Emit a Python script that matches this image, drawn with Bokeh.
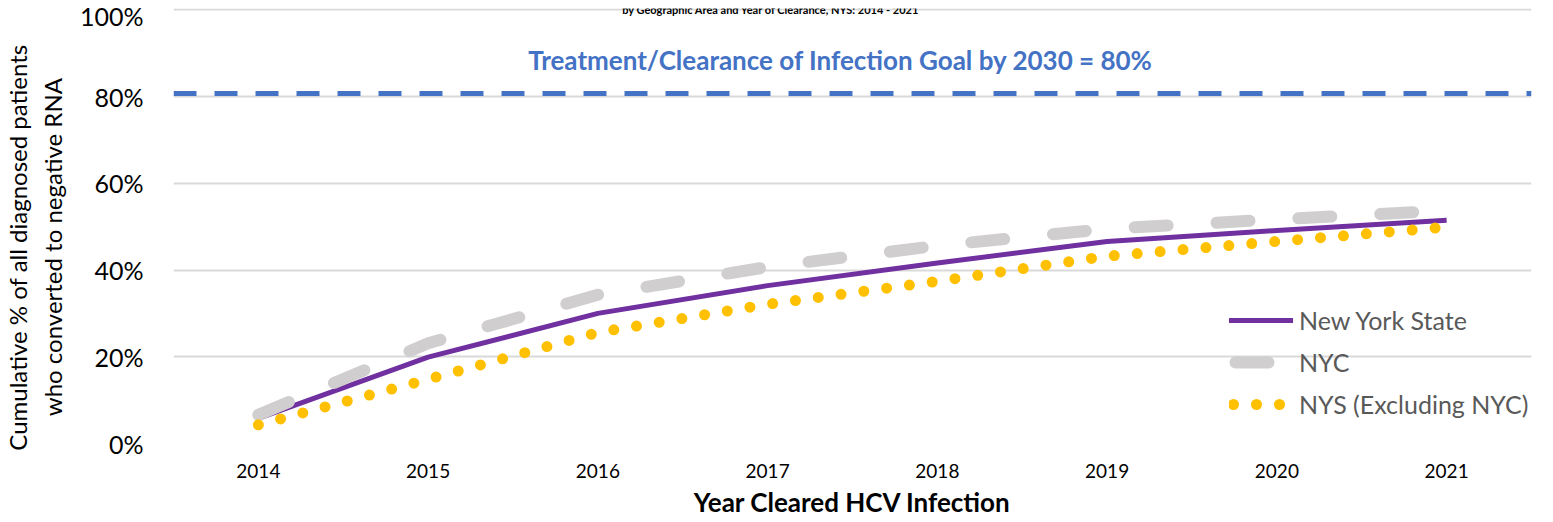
from bokeh.plotting import figure
from bokeh.models import Range1d, FixedTicker, Span, Label, Legend, LegendItem
from bokeh.embed import file_html
from bokeh.resources import INLINE

# ---- data ----
years = [2014, 2015, 2016, 2017, 2018, 2019, 2020, 2021]
year_labels = ["2014", "2015", "2016", "2017", "2018", "2019", "2020", "2021"]
nys = [5.8, 19.9, 30.0, 36.4, 41.6, 46.6, 49.1, 51.5]          # New York State
nyc = [6.6, 23.1, 34.3, 40.7, 45.6, 49.5, 51.7, 53.7]          # NYC
nys_excl = [4.3, 14.8, 25.6, 32.1, 37.4, 43.2, 46.6, 49.9]     # NYS (Excluding NYC)
goal = 80.7
y_ticks = [0, 20, 40, 60, 80, 100]
y_tick_labels = ["0%", "20%", "40%", "60%", "80%", "100%"]
series_names = ["New York State", "NYC", "NYS (Excluding NYC)"]
goal_text = "Treatment/Clearance of Infection Goal by 2030 = 80%"
title_text = "by Geographic Area and Year of Clearance, NYS: 2014 - 2021"
x_title = "Year Cleared HCV Infection"
y_title_lines = ["Cumulative % of all diagnosed patients", "who converted to negative RNA"]

FONT = "Lato"
PAD = "\u00a0" * 7   # shifts the rotated y title slightly downward, as in the reference
NAN = float("nan")

p = figure(width=1545, height=522,
           x_range=Range1d(2013.5, 2021.5), y_range=Range1d(0, 100.3),
           output_backend="svg", toolbar_location=None,
           min_border_left=173, min_border_right=14,
           min_border_top=8, min_border_bottom=79)
p.outline_line_color = None
p.background_fill_color = "white"
p.border_fill_color = "white"

# grid
p.xgrid.visible = False
p.ygrid.ticker = FixedTicker(ticks=y_ticks)
p.ygrid.grid_line_color = "#D9D9D9"
p.ygrid.grid_line_width = 2

# axes
for ax in (p.xaxis[0], p.yaxis[0]):
    ax.axis_line_color = None
    ax.major_tick_line_color = None
    ax.minor_tick_line_color = None
    ax.major_tick_out = 0
    ax.major_tick_in = 0
    ax.major_label_text_font = FONT
    ax.major_label_text_color = "black"
    ax.axis_label_text_font = FONT
    ax.axis_label_text_color = "black"

p.xaxis.ticker = FixedTicker(ticks=years)
p.xaxis.major_label_overrides = {y: l for y, l in zip(years, year_labels)}
p.xaxis.major_label_text_font_size = "19px"
p.xaxis.major_label_standoff = 20
p.xaxis.axis_label = x_title
p.xaxis.axis_label_text_font_size = "26px"
p.xaxis.axis_label_text_font_style = "bold"
p.xaxis.axis_label_standoff = 5

p.yaxis.ticker = FixedTicker(ticks=y_ticks)
p.yaxis.major_label_overrides = {t: l for t, l in zip(y_ticks, y_tick_labels)}
p.yaxis.major_label_text_font_size = "25px"
p.yaxis.major_label_standoff = 30
p.yaxis.axis_label = "\n".join(l + PAD for l in y_title_lines)
p.yaxis.axis_label_text_font_size = "24px"
p.yaxis.axis_label_text_font_style = "normal"
p.yaxis.axis_label_standoff = 10

# goal line
p.add_layout(Span(location=goal, dimension="width", line_color="#4472C4",
                  line_width=5, line_dash="23 18"))

# series
r_nys = p.line(years, nys, line_color="#7030A0", line_width=5, line_join="round")
r_nyc = p.line(years, nyc, line_color="#D0CECE", line_width=12,
               line_dash="33 49", line_cap="round", line_join="round")
r_ex = p.line(years, nys_excl, line_color="#FFC000", line_width=11,
              line_dash="0 23", line_cap="round", line_join="round")

# legend proxies (same styles, dash phase tuned for the legend swatches; draw nothing)
l_nys = p.line([years[0]], [NAN], line_color="#7030A0", line_width=5, line_cap="round")
l_nyc = p.line([years[0]], [NAN], line_color="#D0CECE", line_width=12,
               line_dash="33 49", line_dash_offset=76, line_cap="round")
l_ex = p.line([years[0]], [NAN], line_color="#FFC000", line_width=11,
              line_dash="0 23", line_dash_offset=19, line_cap="round")

# texts
p.add_layout(Label(x=2017.43, y=88.4, text=goal_text, text_font=FONT,
                   text_font_style="bold", text_font_size="26px",
                   text_color="#4472C4", text_align="center",
                   text_baseline="middle"))
p.add_layout(Label(x=2017.02, y=100.1, text=title_text, text_font=FONT,
                   text_font_style="bold", text_font_size="11px",
                   text_color="black", text_align="center",
                   text_baseline="alphabetic"))

legend = Legend(items=[LegendItem(label=series_names[0], renderers=[l_nys]),
                       LegendItem(label=series_names[1], renderers=[l_nyc]),
                       LegendItem(label=series_names[2], renderers=[l_ex])],
                location=(1056, 21), orientation="vertical",
                label_text_font=FONT, label_text_font_size="25px",
                label_text_color="#595959", glyph_width=64, glyph_height=36,
                label_height=36, spacing=6, padding=0, margin=0,
                label_standoff=6, border_line_alpha=0,
                background_fill_alpha=0)
p.add_layout(legend)

open("out.html", "w").write(file_html(p, INLINE))
